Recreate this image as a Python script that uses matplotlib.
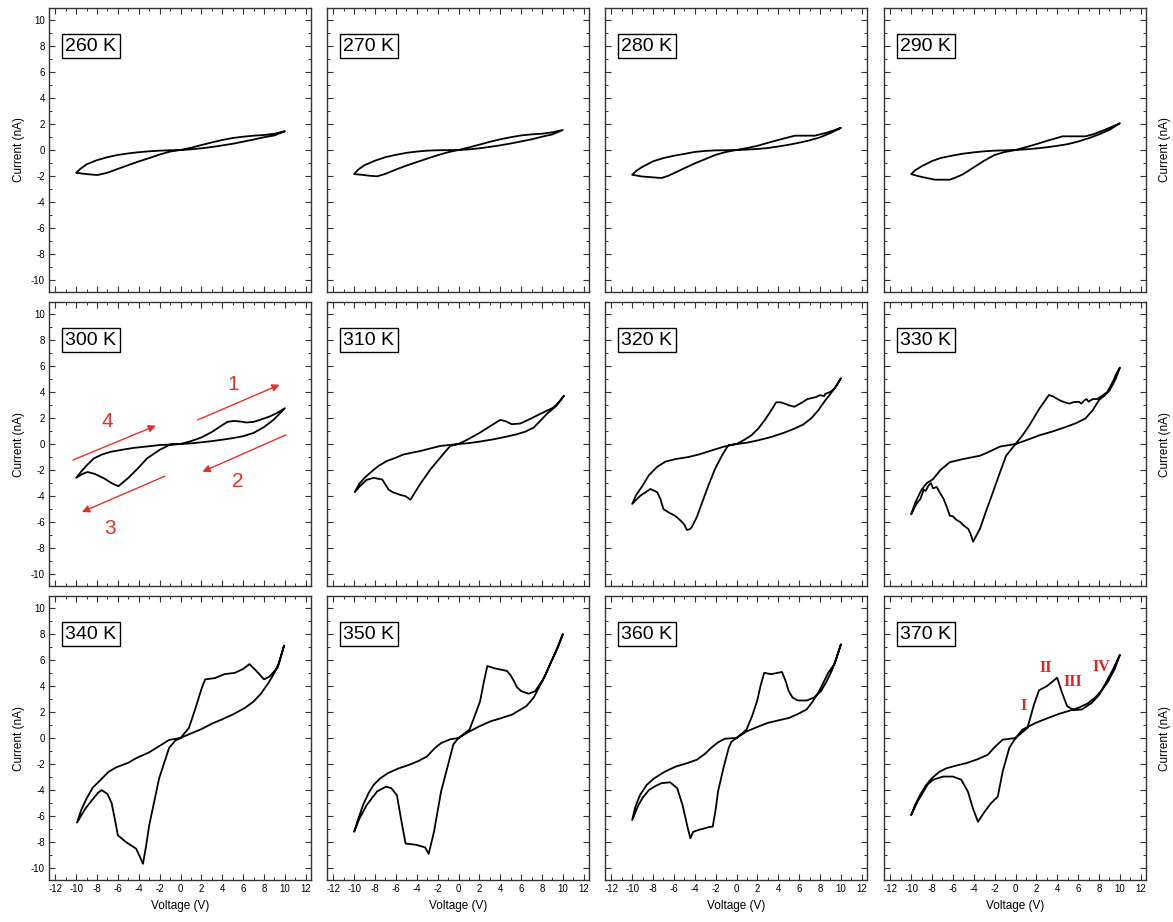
import matplotlib
matplotlib.use('Agg')
import matplotlib.pyplot as plt
from matplotlib.ticker import MultipleLocator

plt.rcParams['font.family'] = ['Liberation Sans', 'DejaVu Sans']
plt.rcParams['axes.unicode_minus'] = False

# ---------------- data (each loop: 0 -> +10 -> 0 -> -10 -> 0) ----------------
TEMPS = ['260 K', '270 K', '280 K', '290 K',
         '300 K', '310 K', '320 K', '330 K',
         '340 K', '350 K', '360 K', '370 K']

V_260 = [0, 1, 2, 3, 4, 5, 6, 7, 8, 9, 10,
         9, 8, 7, 6, 5, 4, 3, 2, 1, 0,
         -1, -2, -3, -4, -5, -6, -7, -7.6, -8, -9, -10,
         -9.6, -9, -8, -7, -6, -5, -4, -3, -2, -1, 0]
I_260 = [0, 0.17, 0.38, 0.58, 0.77, 0.92, 1.02, 1.1, 1.15, 1.25, 1.44,
         1.12, 0.98, 0.8, 0.64, 0.48, 0.35, 0.23, 0.13, 0.05, 0,
         -0.12, -0.35, -0.62, -0.88, -1.16, -1.45, -1.74, -1.86, -1.92, -1.85, -1.75,
         -1.45, -1.1, -0.78, -0.55, -0.38, -0.26, -0.17, -0.1, -0.05, -0.02, 0]

V_270 = [0, 1, 2, 3, 4, 5, 6, 7, 8, 9, 10,
         9, 8, 7, 6, 5, 4, 3, 2, 1, 0,
         -1, -2, -3, -4, -5, -6, -7, -7.8, -8.5, -9.3, -10,
         -9.6, -9, -8, -7, -6, -5, -4, -3, -2, 0]
I_270 = [0, 0.2, 0.41, 0.63, 0.82, 0.98, 1.12, 1.2, 1.25, 1.36, 1.54,
         1.2, 1.02, 0.82, 0.66, 0.5, 0.36, 0.24, 0.13, 0.05, 0,
         -0.17, -0.4, -0.66, -0.93, -1.2, -1.5, -1.83, -2.02, -1.98, -1.9, -1.85,
         -1.5, -1.16, -0.82, -0.55, -0.37, -0.22, -0.12, -0.05, -0.02, 0]

V_280 = [0, 1, 2, 3, 4, 5, 5.6, 7.5, 8.5, 9.3, 10,
         9, 8, 7, 6, 5, 4, 3, 2, 1, 0,
         -1, -2, -3, -4, -5, -6, -6.6, -7.2, -8, -9.1, -10,
         -9.6, -9.1, -8, -7, -6, -5, -4, -3, -2, 0]
I_280 = [0, 0.15, 0.32, 0.55, 0.77, 0.98, 1.1, 1.1, 1.3, 1.5, 1.7,
         1.3, 0.97, 0.74, 0.56, 0.4, 0.27, 0.15, 0.08, 0.03, 0,
         -0.15, -0.37, -0.7, -1.03, -1.4, -1.78, -2.0, -2.15, -2.1, -2.03, -1.9,
         -1.6, -1.33, -0.87, -0.62, -0.44, -0.3, -0.15, -0.07, -0.03, 0]

V_290 = [0, 1, 2, 3, 4, 4.5, 6.7, 7.5, 8.2, 9, 10,
         9, 8, 7, 6, 5, 4, 3, 2, 1, 0,
         -1, -2, -3, -4, -5, -5.7, -6.3, -7.7, -8.5, -9.2, -10,
         -9.6, -9, -8, -7.2, -6, -5, -4, -3, -2, 0]
I_290 = [0, 0.22, 0.45, 0.7, 0.93, 1.05, 1.05, 1.22, 1.44, 1.7, 2.05,
         1.55, 1.2, 0.9, 0.65, 0.45, 0.32, 0.21, 0.12, 0.05, 0,
         -0.15, -0.38, -0.82, -1.33, -1.85, -2.1, -2.28, -2.28, -2.15, -2.03, -1.85,
         -1.55, -1.25, -0.85, -0.62, -0.42, -0.28, -0.18, -0.1, -0.05, 0]

V_300 = [0, 1, 2, 3, 4, 4.5, 5.1, 5.8, 6.3, 7, 7.6, 8.5, 9.2, 10,
         9.4, 8.9, 8, 7, 6, 5, 4, 3, 2, 1, 0,
         -1, -2, -3.2, -4, -5, -5.95, -6.5, -7.3, -8.2, -8.9, -9.4, -10,
         -9.5, -9, -8.3, -7.5, -6.7, -5.5, -4.5, -3, -2, 0]
I_300 = [0, 0.22, 0.5, 0.92, 1.45, 1.7, 1.77, 1.72, 1.65, 1.7, 1.85, 2.1, 2.36, 2.75,
         2.25, 1.85, 1.3, 0.85, 0.6, 0.45, 0.33, 0.22, 0.13, 0.05, 0,
         -0.05, -0.45, -1.1, -1.8, -2.6, -3.24, -3.05, -2.65, -2.3, -2.15, -2.3, -2.6,
         -2.1, -1.65, -1.1, -0.8, -0.6, -0.43, -0.3, -0.17, -0.08, 0]

V_310 = [0, 1, 2.07, 3, 4, 4.5, 5.1, 5.9, 6.8, 7.8, 9.1, 9.6, 10.1,
         9.4, 8.45, 7.8, 7.2, 6.4, 5.6, 4.5, 3.35, 2, 1, 0,
         -0.8, -1.7, -2.7, -3.7, -4.6, -5.1, -5.6, -6.3, -6.7, -7.3, -8.13, -8.8, -9.4, -9.95,
         -9.5, -9, -8.45, -7.7, -6.85, -6, -5.26, -3.67, -1.75, 0]
I_310 = [0, 0.4, 0.88, 1.35, 1.85, 1.75, 1.52, 1.57, 1.9, 2.3, 2.8, 3.2, 3.7,
         2.95, 2.3, 1.75, 1.26, 0.95, 0.75, 0.55, 0.36, 0.18, 0.07, 0,
         -0.15, -1.0, -1.96, -3.1, -4.27, -4.0, -3.9, -3.7, -3.5, -2.73, -2.6, -2.75, -3.2, -3.7,
         -3.05, -2.6, -2.2, -1.7, -1.3, -1.05, -0.8, -0.54, -0.15, 0]

V_320 = [0, 0.7, 1.43, 2.1, 2.7, 3.3, 3.8, 4.2, 4.6, 5.1, 5.55, 6.2, 6.8, 7.6, 8.0, 8.4, 8.5, 9.0, 9.4, 10,
         9.6, 9.0, 8.4, 7.8, 7.14, 6.4, 5.55, 4.5, 3.33, 2, 1, 0,
         -0.8, -1.4, -2.05, -2.7, -3.3, -3.8, -4.3, -4.5, -4.75, -5.0, -5.2, -5.6, -5.9, -6.4, -7.0,
         -7.3, -7.6, -8.25, -8.7, -9.2, -10,
         -9.6, -9.0, -8.4, -7.6, -6.8, -5.8, -4.6, -3.5, -2.4, -1.2, 0]
I_320 = [0, 0.3, 0.67, 1.2, 1.83, 2.55, 3.2, 3.2, 3.1, 2.95, 2.86, 3.15, 3.45, 3.6, 3.75, 3.68, 3.85, 4.0, 4.27, 5.05,
         4.5, 3.85, 3.24, 2.55, 1.96, 1.5, 1.18, 0.85, 0.54, 0.27, 0.1, 0,
         -0.1, -0.9, -1.9, -3.2, -4.5, -5.6, -6.4, -6.55, -6.6, -6.2, -6.0, -5.7, -5.5, -5.3, -5.0,
         -4.2, -3.7, -3.45, -3.7, -3.96, -4.6,
         -3.9, -3.2, -2.4, -1.75, -1.35, -1.15, -1.0, -0.78, -0.5, -0.2, 0]

V_330 = [0, 0.7, 1.33, 2.3, 2.8, 3.2, 3.6, 4.2, 4.7, 5.14, 5.6, 6.1, 6.3, 6.6, 6.8, 7.0, 7.4, 7.84, 8.3, 8.8, 9.2,
         9.4, 9.6, 10,
         9.6, 9.0, 8.5, 8, 7.4, 6.7, 5.8, 4.8, 3.5, 2.3, 1, 0,
         -0.9, -1.5, -2.16, -2.8, -3.4, -3.8, -4.06, -4.3, -4.55, -4.9, -5.3, -5.7, -6.0, -6.3, -6.6,
         -6.9, -7.2, -7.55, -7.9, -8.1, -8.35, -8.6, -8.8, -9.1, -9.5, -10,
         -9.6, -9.0, -8.5, -7.9, -7.2, -6.3, -5, -3.4, -2.4, -1.5, 0]
I_330 = [0, 0.7, 1.44, 2.73, 3.3, 3.76, 3.65, 3.37, 3.2, 3.1, 3.22, 3.24, 3.1, 3.35, 3.45, 3.25, 3.45, 3.45, 3.7, 4.0, 4.6,
         4.9, 5.3, 5.87,
         5.0, 4.1, 3.7, 3.37, 2.6, 1.96, 1.6, 1.3, 0.95, 0.67, 0.28, 0,
         -0.9, -2.2, -3.7, -5.1, -6.5, -7.1, -7.5, -6.9, -6.5, -6.3, -6.0, -5.8, -5.55, -5.5, -4.8,
         -4.2, -3.8, -3.3, -3.4, -3.0, -3.2, -3.6, -3.5, -4.2, -4.6, -5.4,
         -4.5, -3.5, -3.0, -2.7, -2.0, -1.4, -1.15, -0.9, -0.55, -0.2, 0]

V_340 = [0, 0.8, 1.4, 2.05, 2.36, 3.3, 4.2, 5.2, 6.0, 6.6, 7.2, 8.0, 8.5, 9.3, 9.6, 9.92,
         9.4, 9, 8.4, 7.7, 7, 6.15, 5, 3.95, 3, 2.05, 1, 0,
         -0.5, -1.1, -2.05, -3, -3.3, -3.6, -3.9, -4.25, -5.2, -6, -6.3, -6.6, -7.0, -7.55, -7.9,
         -8.35, -9.1, -9.92,
         -9.5, -9, -8.4, -7.7, -6.9, -6.15, -5.0, -4.25, -3, -2, -1.1, 0]
I_340 = [0, 0.77, 2.2, 3.87, 4.5, 4.6, 4.9, 5.0, 5.3, 5.67, 5.2, 4.5, 4.7, 5.4, 6.2, 7.1,
         5.7, 5.0, 4.2, 3.4, 2.8, 2.3, 1.8, 1.42, 1.1, 0.7, 0.35, 0,
         -0.2, -0.77, -3.1, -6.7, -8.3, -9.66, -9.1, -8.5, -8.0, -7.47, -6.2, -5.0, -4.3, -4.0, -4.2,
         -4.64, -5.4, -6.5,
         -5.5, -4.64, -3.8, -3.25, -2.6, -2.25, -1.9, -1.55, -1.1, -0.6, -0.15, 0]

V_350 = [0, 1.05, 1.6, 2.07, 2.4, 2.76, 3.44, 4.63, 5.0, 5.3, 5.6, 6, 6.7, 7.35, 8.2, 9.2, 10,
         9.5, 8.9, 8.3, 7.86, 7.2, 6.5, 5.14, 4, 3.1, 2, 1.05, 0,
         -0.5, -1, -1.67, -2.35, -2.86, -3.2, -4.05, -5.07, -5.4, -5.9, -6.43, -6.94, -7.8, -8.8, -9.5, -10,
         -9.6, -9.15, -8.6, -8.13, -7.5, -6.77, -5.8, -4.73, -3.8, -3.03, -2.3, -1.67, -0.8, 0]
I_350 = [0, 0.64, 1.8, 2.83, 4.2, 5.53, 5.35, 5.15, 4.8, 4.38, 3.9, 3.6, 3.4, 3.6, 4.63, 6.43, 7.98,
         6.9, 5.9, 4.8, 4.1, 3.1, 2.45, 1.8, 1.5, 1.29, 0.9, 0.5, 0,
         -0.5, -2.06, -4.1, -7.2, -8.9, -8.4, -8.2, -8.1, -6.7, -4.4, -3.86, -3.73, -4.1, -5.15, -6.2, -7.2,
         -6.2, -5.15, -4.2, -3.6, -3.1, -2.7, -2.35, -2.06, -1.75, -1.42, -0.8, -0.39, -0.1, 0]

V_360 = [0, 0.95, 1.5, 1.97, 2.3, 2.65, 3.33, 4.35, 4.7, 5.0, 5.37, 5.88, 6.73, 7.4, 8.1, 8.6, 9.12, 9.6, 10,
         9.4, 8.78, 7.92, 7.3, 6.73, 5.9, 5.03, 4, 3.0, 2, 0.95, 0,
         -0.5, -0.75, -1.25, -1.77, -2.0, -2.28, -2.7, -3.13, -3.6, -4.15, -4.42, -4.66, -4.9, -5.17, -5.68,
         -6.36, -7.2, -7.8, -8.4, -9.0, -9.4, -10,
         -9.7, -9.25, -8.6, -7.9, -6.9, -5.85, -4.8, -3.8, -3.0, -2.45, -1.8, -1.1, 0]
I_360 = [0, 0.64, 1.7, 2.83, 4.0, 5.0, 4.9, 5.07, 4.38, 3.6, 3.1, 2.88, 2.88, 3.1, 3.6, 4.3, 5.15, 6.2, 7.2,
         5.7, 5.0, 3.6, 2.8, 2.2, 1.85, 1.54, 1.35, 1.16, 0.85, 0.5, 0,
         -0.3, -0.77, -2.3, -4.1, -5.5, -6.8, -6.85, -6.95, -7.05, -7.2, -7.7, -6.95, -6.1, -5.15, -3.86,
         -3.4, -3.47, -3.7, -4.0, -4.6, -5.15, -6.3,
         -5.3, -4.38, -3.6, -3.1, -2.6, -2.2, -1.95, -1.67, -1.2, -0.77, -0.35, -0.05, 0]

V_370 = [0, 0.6, 1.14, 1.77, 2.25, 3.04, 3.99, 4.4, 4.94, 5.57, 6.36, 7.31, 8.0, 8.58, 9.3, 10,
         9.5, 8.9, 8.3, 7.63, 6.9, 6.04, 5, 4.15, 3, 1.93, 0.66, 0,
         -0.6, -1.23, -1.7, -2.34, -3.0, -3.6, -4.08, -4.56, -5.2, -6, -6.93, -7.88, -8.4, -8.83, -9.4, -10,
         -9.6, -9.15, -8.6, -8.04, -7.3, -6.61, -5.6, -4.72, -3.7, -2.66, -2.0, -1.23, 0]
I_370 = [0, 0.4, 0.77, 2.57, 3.66, 4.0, 4.63, 3.6, 2.45, 2.14, 2.19, 2.7, 3.3, 4.12, 5.2, 6.38,
         5.3, 4.38, 3.7, 3.1, 2.65, 2.32, 2.05, 1.85, 1.5, 1.16, 0.64, 0,
         -0.77, -2.57, -4.5, -5.0, -5.7, -6.43, -5.4, -4.12, -3.2, -2.96, -2.96, -3.2, -3.55, -4.12, -4.9, -5.92,
         -5.1, -4.38, -3.65, -3.1, -2.6, -2.32, -2.1, -1.93, -1.65, -1.29, -0.7, -0.13, 0]

LOOPS = [(V_260, I_260), (V_270, I_270), (V_280, I_280), (V_290, I_290),
         (V_300, I_300), (V_310, I_310), (V_320, I_320), (V_330, I_330),
         (V_340, I_340), (V_350, I_350), (V_360, I_360), (V_370, I_370)]

X_TICKS = list(range(-12, 13, 2))
Y_TICKS = list(range(-10, 11, 2))
SWEEP_LABELS = ['1', '2', '3', '4']
PEAK_LABELS = ['I', 'II', 'III', 'IV']

# ---------------- figure ----------------
FW, FH = 1173, 922
fig = plt.figure(figsize=(FW / 100, FH / 100), dpi=100)
col_left = [49, 327, 605, 884]
row_top = [8, 302, 596]
W, H = 262, 284
RED = '#e5312b'

axes = []
for k, (V, I) in enumerate(LOOPS):
    r, c = divmod(k, 4)
    L, T = col_left[c], row_top[r]
    ax = fig.add_axes([L / FW, 1 - (T + H) / FH, W / FW, H / FH])
    axes.append(ax)
    ax.plot(V, I, color='black', lw=1.3, solid_joinstyle='round')
    ax.set_xlim(-12.6, 12.5)
    ax.set_ylim(-10.9, 10.9)
    ax.set_xticks(X_TICKS)
    ax.set_yticks(Y_TICKS)
    ax.xaxis.set_minor_locator(MultipleLocator(1))
    ax.yaxis.set_minor_locator(MultipleLocator(1))
    ax.tick_params(which='both', direction='in', top=True, right=True,
                   labelsize=7, color='#333333', pad=3)
    ax.tick_params(which='major', length=4, width=0.8)
    ax.tick_params(which='minor', length=2, width=0.7)
    for s in ax.spines.values():
        s.set_linewidth(1.0)
        s.set_color('#333333')
    if c != 0:
        ax.tick_params(labelleft=False)
    else:
        ax.set_ylabel('Current (nA)', fontsize=8.5, labelpad=4)
    if r != 2:
        ax.tick_params(labelbottom=False)
    else:
        ax.set_xlabel('Voltage (V)', fontsize=8.5, labelpad=4)
    ax.text(0.062, 0.895, TEMPS[k], transform=ax.transAxes, fontsize=14,
            ha='left', va='top',
            bbox=dict(boxstyle='square,pad=0.18', fc='white', ec='black', lw=1.0))

# right-hand axis titles
for r in range(3):
    yc = 1 - (row_top[r] + H / 2) / FH
    fig.text(1165 / FW, yc, 'Current (nA)', rotation=90, fontsize=8.5,
             ha='center', va='center')

# sweep-direction arrows on 300 K panel
ax = axes[4]
arrows = [((1.65, 1.85), (9.5, 4.55)), ((10.1, 0.7), (2.1, -2.13)),
          ((-1.5, -2.47), (-9.45, -5.22)), ((-10.3, -1.23), (-2.35, 1.41))]
label_pos = [(5.05, 4.6), (5.45, -2.85), (-6.75, -6.5), (-7.05, 1.7)]
for (p0, p1), lp, s in zip(arrows, label_pos, SWEEP_LABELS):
    ax.annotate('', xy=p1, xytext=p0,
                arrowprops=dict(arrowstyle='-|>', color=RED, lw=1.0,
                                mutation_scale=11, shrinkA=0, shrinkB=0))
    ax.text(lp[0], lp[1], s, color=RED, fontsize=15, ha='center', va='center')

# peak labels on 370 K panel
ax = axes[11]
peak_pos = [(0.76, 2.45), (2.94, 5.35), (5.47, 4.32), (8.26, 5.46)]
for (x, y), s in zip(peak_pos, PEAK_LABELS):
    ax.text(x, y, s, color='#d3262a', fontsize=11.5, fontweight='bold',
            family=['Liberation Serif', 'DejaVu Serif'], ha='center', va='center')

fig.savefig('out.png', dpi=100, facecolor='white')
